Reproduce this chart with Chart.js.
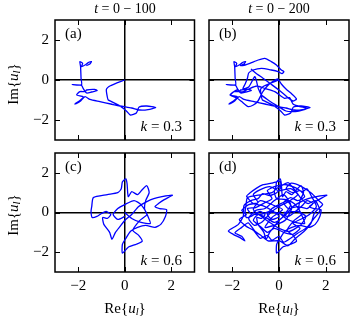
<!DOCTYPE html>
<html>
<head>
<meta charset="utf-8">
<script src="https://cdn.jsdelivr.net/npm/chart.js@4.4.1/dist/chart.umd.min.js"></script>
<style>
  body { margin: 0; background: #fff; width: 352px; height: 321px; position: relative; overflow: hidden; font-family: "Liberation Serif", serif; }
  canvas { position: absolute; }
  .t { position: absolute; white-space: nowrap; color: #000; line-height: 1; transform: translate(-50%, -50%); }
  .t sub { font-size: 70%; vertical-align: -0.25em; line-height: 0; }
  .rot { transform: translate(-50%, -50%) rotate(-90deg); }
  .lab { position: absolute; white-space: nowrap; color: #000; line-height: 1; font-size: 15px; }
</style>
</head>
<body>
<canvas id="pa" width="200" height="150" style="left:0;top:0"></canvas>
<canvas id="pb" width="152" height="150" style="left:200px;top:0"></canvas>
<canvas id="pc" width="200" height="171" style="left:0;top:150px"></canvas>
<canvas id="pd" width="152" height="171" style="left:200px;top:150px"></canvas>

<div class="t" style="left:125px;top:9px;font-size:14px"><i>t</i> = 0 − 100</div>
<div class="t" style="left:279px;top:9px;font-size:14px"><i>t</i> = 0 − 200</div>
<div class="t rot" style="left:13px;top:84px;font-size:15px">Im{<i>u<sub>l</sub></i>}</div>
<div class="t rot" style="left:13px;top:215px;font-size:15px">Im{<i>u<sub>l</sub></i>}</div>
<div class="t" style="left:125px;top:308px;font-size:15px">Re{<i>u<sub>l</sub></i>}</div>
<div class="t" style="left:279px;top:308px;font-size:15px">Re{<i>u<sub>l</sub></i>}</div>

<div class="lab" style="left:65px;top:26px">(a)</div>
<div class="lab" style="left:219px;top:26px">(b)</div>
<div class="lab" style="left:65px;top:159px">(c)</div>
<div class="lab" style="left:219px;top:159px">(d)</div>
<div class="lab" style="right:170px;top:119px"><i>k</i> = 0.3</div>
<div class="lab" style="right:16px;top:119px"><i>k</i> = 0.3</div>
<div class="lab" style="right:170px;top:253px"><i>k</i> = 0.6</div>
<div class="lab" style="right:16px;top:253px"><i>k</i> = 0.6</div>

<script>
// axis ticks
const xTicks = [-2, 0, 2];
const yTicks = [-2, 0, 2];

// (a) t = 0-100, k = 0.3
const reA = [0, -0.64, -0.79, -0.75, -0.71, -0.57, -0.21, 0.07, 0.24, 0.5, 0.62, 0.95, 1.33, 1.0, 0.65, 0.3, -0.21, -0.6, -1.07, -1.5, -1.71, -1.93, -2.14, -1.9, -1.79, -2.07, -1.93, -1.71, -1.64, -1.29, -1.19, -1.43, -1.64, -1.79, -1.86, -2.26, -1.86, -1.88, -1.9, -1.93, -1.81, -1.86, -1.71, -1.57, -1.43, -1.5, -1.65];
const imA = [0, -0.3, -0.47, -0.85, -1.0, -1.08, -1.3, -1.55, -1.75, -1.65, -1.35, -1.3, -1.37, -1.48, -1.5, -1.4, -1.3, -1.2, -1.08, -0.97, -0.83, -1.08, -1.2, -1.0, -0.83, -0.75, -0.58, -0.58, -0.5, -0.47, -0.53, -0.6, -0.65, -0.42, -0.27, -0.23, -0.25, 0.1, 0.67, 0.92, 0.83, 0.67, 0.75, 0.87, 0.92, 0.8, 0.72];

// (b) t = 100-200 continuation, k = 0.3
const reB2 = [-1.45, -1.25, -0.89, -0.61, -0.33, -0.11, 0.1, 0.21, 0.13, -0.04, -0.33, -0.75, -1.11, -1.3, -1.35, -1.45, -1.55, -1.3, -1.04, -0.96, -0.89, -0.75, -0.47, -0.18, 0.1, 0.3, 0.52, 0.85, 1.2, 0.9, 0.6, 0.45, 0.24, -0.18, -0.61, -0.95, -1.3, -1.6, -1.8, -2.1, -1.8, -1.6, -1.32, -1.1, -0.9, -0.7, -0.5, -0.3, -0.05, 0.1, 0.3, 0.55, 0.75, 0.6, 0.35, 0.05, -0.35, -0.7, -1.0, -1.2];
const imB2 = [0.75, 0.83, 1.0, 1.08, 0.92, 0.75, 0.5, 0.42, 0.32, 0.42, 0.5, 0.58, 0.5, 0.35, 0.1, -0.2, -0.45, -0.35, 0.17, -0.08, -0.42, -0.75, -1.0, -1.22, -1.42, -1.55, -1.58, -1.55, -1.42, -1.33, -1.2, -0.88, -0.92, -0.58, -0.42, -0.3, -0.45, -0.6, -0.5, -0.75, -0.9, -1.08, -1.33, -1.25, -1.05, -0.6, -0.3, -0.1, 0.05, -0.2, -0.45, -0.7, -0.95, -1.05, -0.85, -0.55, -0.2, 0.1, 0.35, 0.55];

// (c) t = 0-100, k = 0.6
const reC = [0, 0.3, 0.7, 1.1, 1.0, 0.85, 0.9, 1.05, 0.95, 0.75, 0.55, 0.3, 0.15, 0.1, 0.05, -0.1, -0.15, -0.3, -0.75, -1.35, -1.42, -1.45, -1.4, -1.2, -1.0, -0.8, -0.6, -0.75, -0.95, -0.9, -0.65, -0.55, -0.4, -0.2, 0.0, 0.3, 0.6, 0.95, 1.25, 1.6, 2.05, 1.7, 1.45, 1.3, 1.5, 1.8, 1.75, 1.55, 1.3, 0.9, 0.55, 0.25, 0.05, -0.1, -0.1, 0.15, 0.5, 0.75, 0.6, 0.35, 0.65, 0.95, 0.7, 0.4, 0.0, -0.3, -0.5, -0.3, 0.0];
const imC = [0, -0.3, -0.5, -0.55, -0.2, 0.2, 0.6, 1.0, 1.35, 1.15, 0.9, 1.05, 0.8, 1.45, 1.7, 1.55, 1.2, 1.0, 0.9, 0.75, 0.3, 0.05, -0.25, -0.2, -0.05, 0.05, -0.1, -0.3, -0.25, -0.6, -1.0, -1.35, -1.0, -0.7, -0.4, -0.1, 0.3, 0.55, 0.7, 0.8, 0.88, 0.65, 0.45, 0.3, 0.2, 0.15, -0.2, -0.6, -0.75, -0.65, -0.75, -0.95, -1.3, -1.6, -2.05, -1.75, -1.6, -1.45, -1.15, -0.9, -0.4, -0.1, 0.4, 0.6, 0.4, 0.2, -0.1, -0.35, -0.2];

// (d) t = 100-200 continuation, k = 0.6
const reD2 = [-0.3, -0.7, -1.1, -1.39, -1.25, -0.96, -0.68, -0.33, 0.03, 0.1, -0.1, -0.4, -0.7, -0.9, -1.2, -1.5, -1.53, -1.74, -2.17, -1.96, -1.67, -1.46, -1.6, -1.89, -1.6, -1.32, -1.04, -0.75, -0.47, 0.03, 0.38, 0.67, 1.09, 1.38, 1.52, 1.87, 1.73, 1.38, 0.95, 0.52, 0.3, 0.6, 0.9, 1.1, 0.8, 0.5, 0.2, 0.4, 0.8, 1.2, 1.45, 1.2, 1.0, 0.7, 0.4, 0.0, -0.4, -0.8, -1.2, -1.35, -1.0, -0.6, -0.3, -0.5, -0.2, 0.3, 0.7, 1.0, 1.2, 1.4, 1.6, 1.3, 1.0, 0.6, 0.9, 0.6, 0.2, -0.2, -0.5, -0.8, -1.1, -0.9, -0.5, -0.2, 0.1, 0.3, 0.5, 0.2, -0.2, -0.6, -1.0, -1.3, -1.05, -0.7, -0.35, 0.0, 0.4, 0.8, 0.5, 0.0,
  -0.4, -0.8, -1.1, -0.9, -1.3, -1.6, -1.4, -1.7, -1.4, -1.1, -0.8, -0.5, -0.3, 0.0, 0.2, 0.5, 0.8, 1.2, 1.5, 1.75, 1.55, 1.25, 0.95, 0.7, 0.4, 0.1, -0.2, -0.1, 0.3, 0.55, 0.3, -0.1, -0.6, -0.3, 0.15, -0.2, -0.8, -1.1, -0.75, -0.4, 0.0, 0.45, 0.95, 1.15, 0.8, 0.2];
const imD2 = [0.1, 0.35, 0.45, 0.82, 0.98, 1.23, 1.4, 1.48, 1.57, 1.3, 1.0, 0.85, 0.95, 0.7, 0.6, 0.35, -0.18, -0.6, -0.93, -1.1, -1.27, -1.43, -1.2, -1.02, -0.75, -0.52, -0.93, -1.18, -1.43, -1.43, -1.68, -1.35, -0.93, -0.52, -0.02, 0.4, 0.57, 0.98, 1.32, 1.48, 1.2, 1.0, 1.1, 0.8, 0.6, 0.75, 0.5, 0.2, 0.3, 0.2, 0.45, 0.6, 0.35, 0.05, -0.2, -0.05, 0.05, -0.1, -0.05, 0.2, 0.25, 0.5, 0.7, 1.1, 1.3, 1.4, 1.25, 1.05, 1.2, 0.8, 0.3, -0.1, -0.3, -0.55, -0.8, -1.1, -1.0, -0.8, -1.0, -0.7, -0.4, -0.1, -0.3, -0.5, -0.3, 0.0, 0.4, 0.9, 0.6, 0.2, 0.1, -0.3, -0.65, -0.45, 0.0, 0.3, 0.55, 0.9, 1.2, 1.1,
  1.3, 1.15, 0.9, 0.5, 0.4, 0.1, -0.1, -0.35, -0.7, -0.9, -1.3, -1.15, -1.4, -1.2, -1.5, -1.3, -1.05, -0.75, -0.3, 0.1, 0.6, 0.45, 0.7, 1.1, 1.5, 1.35, 1.1, 0.7, 0.65, 0.25, -0.35, -0.6, -0.75, -0.25, 0.15, 0.35, 0.6, 0.15, -0.2, -0.5, -0.8, -0.95, -0.6, -0.2, 0.05, 0.0];

const reB = reA.concat(reB2), imB = imA.concat(imB2);
const reD = reC.concat(reD2), imD = imC.concat(imD2);

const tickFont = { family: "Liberation Serif", size: 15 };
const fmt = v => (v < 0 ? '\u2212' + Math.abs(v) : String(v));

// frame + inward ticks on all four sides
const framePlugin = {
  id: 'frame',
  afterDraw(chart) {
    const { ctx, chartArea: a, scales } = chart;
    ctx.save();
    ctx.strokeStyle = '#000';
    ctx.lineWidth = 1.5;
    ctx.strokeRect(a.left, a.top, a.right - a.left, a.bottom - a.top);
    ctx.lineWidth = 1;
    ctx.beginPath();
    xTicks.forEach(v => {
      const p = Math.round(scales.x.getPixelForValue(v)) + 0.5;
      ctx.moveTo(p, a.top); ctx.lineTo(p, a.top + 5);
      ctx.moveTo(p, a.bottom); ctx.lineTo(p, a.bottom - 5);
    });
    yTicks.forEach(v => {
      const p = Math.round(scales.y.getPixelForValue(v)) + 0.5;
      ctx.moveTo(a.left, p); ctx.lineTo(a.left + 5, p);
      ctx.moveTo(a.right, p); ctx.lineTo(a.right - 5, p);
    });
    ctx.stroke();
    ctx.restore();
  }
};

function panel(id, re, im, box, showX, showY) {
  new Chart(document.getElementById(id), {
    type: 'scatter',
    data: {
      datasets: [{
        data: re.map((x, i) => ({ x: x, y: im[i] })),
        showLine: true,
        borderColor: '#0000ff',
        borderWidth: 1.3,
        pointRadius: 0,
        tension: 0.2,
        fill: false
      }]
    },
    options: {
      responsive: false,
      animation: false,
      events: [],
      layout: { padding: { top: box.top, right: box.right, left: 0, bottom: 0 } },
      plugins: { legend: { display: false }, tooltip: { enabled: false } },
      scales: {
        x: {
          type: 'linear', min: -3, max: 3,
          afterBuildTicks: s => { s.ticks = xTicks.map(v => ({ value: v })); },
          afterFit: s => { s.height = box.xh; s.paddingLeft = 0; s.paddingRight = 0; },
          ticks: { display: showX, font: tickFont, color: '#000', padding: 5, maxRotation: 0, callback: fmt },
          grid: { color: c => (c.tick && c.tick.value === 0 ? '#000' : 'rgba(0,0,0,0)'), lineWidth: 1.5, drawTicks: false },
          border: { display: false }
        },
        y: {
          type: 'linear', min: -3, max: 3,
          afterBuildTicks: s => { s.ticks = yTicks.map(v => ({ value: v })); },
          afterFit: s => { s.width = box.yw; s.paddingTop = 0; s.paddingBottom = 0; },
          ticks: { display: showY, font: tickFont, color: '#000', padding: 6, callback: fmt },
          grid: { color: c => (c.tick && c.tick.value === 0 ? '#000' : 'rgba(0,0,0,0)'), lineWidth: 1.5, drawTicks: false },
          border: { display: false }
        }
      }
    },
    plugins: [framePlugin]
  });
}

panel('pa', reA, imA, { top: 20, right: 5.5, yw: 55, xh: 10 }, false, true);
panel('pb', reB, imB, { top: 20, right: 3, yw: 9, xh: 10 }, false, false);
panel('pc', reC, imC, { top: 3, right: 5.5, yw: 55, xh: 49 }, true, true);
panel('pd', reD, imD, { top: 3, right: 3, yw: 9, xh: 49 }, true, false);
</script>
</body>
</html>
